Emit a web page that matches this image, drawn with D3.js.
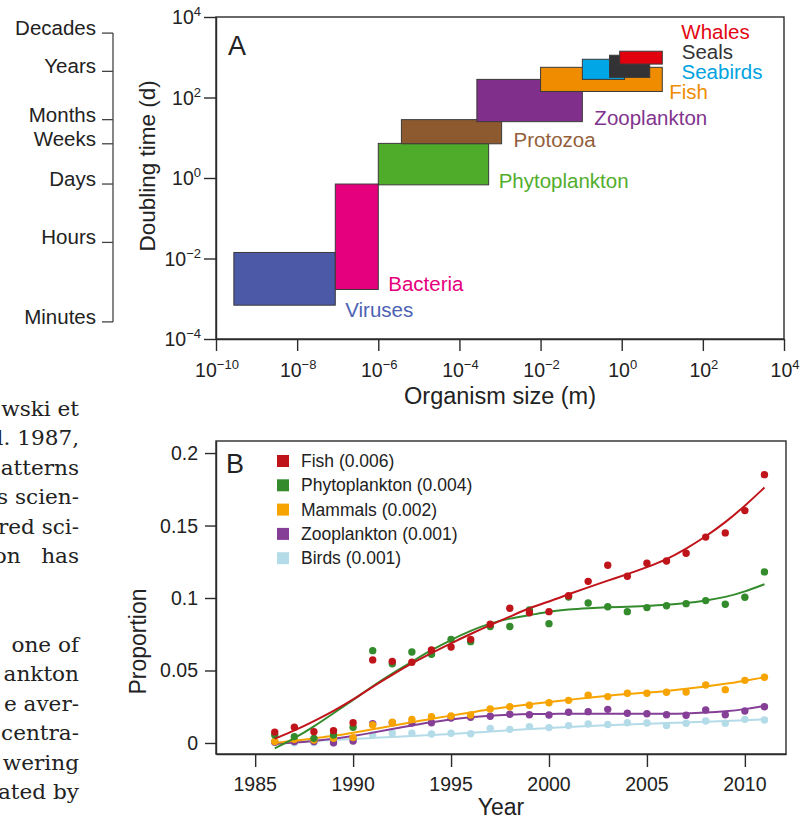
<!DOCTYPE html>
<html>
<head>
<meta charset="utf-8">
<script src="https://cdn.jsdelivr.net/npm/d3@7/dist/d3.min.js"></script>
<style>
  body { margin: 0; background: #fff; }
  svg { display: block; font-family: "Liberation Sans", Arial, sans-serif; }
</style>
</head>
<body>
<svg id="chart" width="807" height="820"></svg>
<script>
// ---- panel A data (log10 of size in m, log10 of doubling time in days)
var groups   = ['Viruses', 'Bacteria', 'Phytoplankton', 'Protozoa', 'Zooplankton', 'Fish', 'Seabirds', 'Seals', 'Whales'];
var sizeLo   = [-9.56, -7.06, -6.0, -5.43, -3.57, -2.0, -0.97, -0.3, -0.05];
var sizeHi   = [-7.06, -6.0, -3.28, -2.96, -0.97, 1.0, 0.07, 0.69, 1.0];
var timeLo   = [-3.16, -2.77, -0.17, 0.85, 1.4, 2.15, 2.45, 2.5, 2.83];
var timeHi   = [-1.85, -0.15, 0.86, 1.45, 2.45, 2.75, 2.95, 3.05, 3.15];
var yExp     = [-4, -2, 0, 2, 4];
var xExp     = [-10, -8, -6, -4, -2, 0, 2, 4];
var timeWords = ['Decades', 'Years', 'Months', 'Weeks', 'Days', 'Hours', 'Minutes'];
var timeWordPos = [3.6, 2.65, 1.45, 0.85, -0.15, -1.6, -3.575];

// ---- panel B data (proportion of studies per year)
var years = [1986, 1987, 1988, 1989, 1990, 1991, 1992, 1993, 1994, 1995, 1996, 1997, 1998,
             1999, 2000, 2001, 2002, 2003, 2004, 2005, 2006, 2007, 2008, 2009, 2010, 2011];
var fish    = [0.0075, 0.0108, 0.0078, 0.0085, 0.014, 0.0573, 0.0563, 0.0557, 0.0642, 0.0662, 0.0715, 0.0819, 0.0929,
               0.0898, 0.0906, 0.1016, 0.1115, 0.1226, 0.115, 0.124, 0.1255, 0.1309, 0.142, 0.1449, 0.1603, 0.1851];
var phyto   = [0.0055, 0.0044, 0.0032, 0.0055, 0.0108, 0.0637, 0.0547, 0.0628, 0.0612, 0.0715, 0.0699, 0.0803, 0.0803,
               0.0918, 0.0823, 0.1007, 0.0966, 0.094, 0.0906, 0.0934, 0.0947, 0.0961, 0.0982, 0.0957, 0.1005, 0.118];
var mammals = [0.001, 0.0025, 0.002, 0.0032, 0.0037, 0.0124, 0.0143, 0.0163, 0.0182, 0.0186, 0.0193, 0.0235, 0.025,
               0.026, 0.0278, 0.0294, 0.0329, 0.032, 0.0343, 0.0343, 0.035, 0.0352, 0.04, 0.0368, 0.0432, 0.0453];
var zoo     = [0.0005, 0.001, 0.001, 0.0002, 0.0014, 0.0133, 0.014, 0.0138, 0.014, 0.0172, 0.0177, 0.0184, 0.0198,
               0.0195, 0.0193, 0.0212, 0.0216, 0.0232, 0.0205, 0.0202, 0.0195, 0.0191, 0.0228, 0.0195, 0.0221, 0.025];
var birds   = [0.0008, 0.0002, 0.0003, 0.0002, 0.0016, 0.0055, 0.0067, 0.0067, 0.0062, 0.0067, 0.0064, 0.0101, 0.0094,
               0.0113, 0.0106, 0.012, 0.0131, 0.0127, 0.014, 0.0138, 0.012, 0.0136, 0.0152, 0.0136, 0.0163, 0.0159];
// smoothed trends
var fishFit    = [0.003, 0.0085, 0.015, 0.022, 0.0298, 0.0389, 0.047, 0.055, 0.062, 0.0688, 0.0752, 0.0814, 0.0871,
                  0.0932, 0.0975, 0.1026, 0.1074, 0.112, 0.1164, 0.1212, 0.1265, 0.1339, 0.1424, 0.152, 0.1635, 0.1762];
var phytoFit   = [-0.0037, 0.0032, 0.0113, 0.0205, 0.0297, 0.0393, 0.048, 0.056, 0.0642, 0.0711, 0.0775, 0.0826, 0.086,
                  0.0881, 0.0906, 0.0922, 0.093, 0.0936, 0.094, 0.0945, 0.0952, 0.0964, 0.0982, 0.1005, 0.1044, 0.1095];
var mammalsFit = [0, 0.0014, 0.0032, 0.0048, 0.0071, 0.0094, 0.012, 0.0143, 0.0166, 0.0189, 0.021, 0.0233, 0.025,
                  0.0267, 0.0283, 0.0297, 0.0313, 0.0327, 0.0338, 0.0347, 0.0359, 0.0373, 0.0389, 0.0407, 0.043, 0.0453];
var zooFit     = [-0.0007, 0.0002, 0.0014, 0.0028, 0.0048, 0.0071, 0.0097, 0.0122, 0.0143, 0.0163, 0.0179, 0.0189, 0.0195,
                  0.02, 0.02, 0.0202, 0.0202, 0.0202, 0.0202, 0.0202, 0.0202, 0.0203, 0.0209, 0.0218, 0.0232, 0.0255];
var birdsFit   = [0.0005, 0.001, 0.0015, 0.0021, 0.0028, 0.0035, 0.0042, 0.0048, 0.0055, 0.0062, 0.007, 0.0079, 0.0088,
                  0.0096, 0.0103, 0.011, 0.0117, 0.0123, 0.0128, 0.0133, 0.0137, 0.0142, 0.0146, 0.0151, 0.0157, 0.0162];
var seriesNames = ['Fish (0.006)', 'Phytoplankton (0.004)', 'Mammals (0.002)', 'Zooplankton (0.001)', 'Birds (0.001)'];
var yTicksB = [0, 0.05, 0.1, 0.15, 0.2];
var xTicksB = [1985, 1990, 1995, 2000, 2005, 2010];

// bits of the neighbouring text column that show at the left edge
var bodyLines = ['wski et', 'l. 1987,', 'atterns', 's scien-', 'red sci-', null, '', '', 'one of',
                 'ankton', 'e aver-', 'centra-', 'wering', 'ated by'];

var svg = d3.select('#chart');
var ink = '#2b2b2b';

// ---------- left text column (slightly widened serif, right-justified)
var body = svg.append('g')
  .attr('transform', 'translate(79,0) scale(1.08,1) translate(-79,0)')
  .attr('font-family', '"DejaVu Serif", "Liberation Serif", serif')
  .attr('font-size', '20px').attr('fill', '#222');
bodyLines.forEach(function(t, i) {
  var y = 416 + i * 29.5;
  if (t === null) {
    body.append('text').attr('x', 25).attr('y', y).attr('text-anchor', 'end').text('on');
    body.append('text').attr('x', 79).attr('y', y).attr('text-anchor', 'end').text('has');
  } else if (t) {
    body.append('text').attr('x', 79).attr('y', y).attr('text-anchor', 'end').text(t);
  }
});

// ---------- panel A
var xA = d3.scaleLinear().domain([-10, 4]).range([216, 784]);
var yA = d3.scaleLinear().domain([-4, 4]).range([339, 17]);
var colorsA = ['#4b59a6', '#e5007d', '#4fac2a', '#8d5a2f', '#80308b', '#f08c00', '#00a6e6', '#333336', '#e2000f'];
var textColA = ['#4d62b4', '#e5007d', '#52ad2b', '#93603a', '#82348e', '#f08c00', '#00a3e0', '#333336', '#e30613'];
var labelOff = [[10, 12], [10, 2], [10, 3], [12, 3], [12, 3], [7, 8], [57, 0], [32, -18], [19, -25]];

var gA = svg.append('g');
gA.selectAll('rect.box').data(groups).enter().append('rect')
  .attr('class', 'box')
  .attr('x', function(d, i) { return xA(sizeLo[i]); })
  .attr('y', function(d, i) { return yA(timeHi[i]); })
  .attr('width', function(d, i) { return xA(sizeHi[i]) - xA(sizeLo[i]); })
  .attr('height', function(d, i) { return yA(timeLo[i]) - yA(timeHi[i]); })
  .attr('fill', function(d, i) { return colorsA[i]; })
  .attr('stroke', '#3a3a3a').attr('stroke-width', 1);

gA.selectAll('text.grp').data(groups).enter().append('text')
  .attr('class', 'grp')
  .attr('x', function(d, i) { return xA(sizeHi[i]) + labelOff[i][0]; })
  .attr('y', function(d, i) { return yA(timeLo[i]) + labelOff[i][1]; })
  .attr('fill', function(d, i) { return textColA[i]; })
  .attr('font-size', '20.5px')
  .text(function(d) { return d; });

gA.append('rect').attr('x', 216).attr('y', 17).attr('width', 568).attr('height', 322)
  .attr('fill', 'none').attr('stroke', ink).attr('stroke-width', 1.4);

var axA = gA.append('g').attr('transform', 'translate(216,0)')
  .call(d3.axisLeft(yA).tickValues(yExp).tickSize(12).tickSizeOuter(0).tickFormat(''));
var axAx = gA.append('g').attr('transform', 'translate(0,339)')
  .call(d3.axisBottom(xA).tickValues(xExp).tickSize(12).tickSizeOuter(0).tickFormat(''));
[axA, axAx].forEach(function(a) {
  a.select('.domain').attr('stroke', ink).attr('stroke-width', 1.4);
  a.selectAll('.tick line').attr('stroke', ink).attr('stroke-width', 1.4);
});

function powLabel(sel, e) {
  sel.append('tspan').attr('font-size', '19.5px').text('10');
  sel.append('tspan').attr('font-size', '13px').attr('dy', -8).text(e < 0 ? '\u2212' + (-e) : e);
}
yExp.forEach(function(e) {
  var t = gA.append('text').attr('x', 201).attr('y', yA(e) + 7).attr('text-anchor', 'end').attr('fill', '#222');
  powLabel(t, e);
});
xExp.forEach(function(e) {
  var t = gA.append('text').attr('x', xA(e) + 1).attr('y', 377).attr('text-anchor', 'middle').attr('fill', '#222');
  powLabel(t, e);
});

gA.append('text').attr('x', 228).attr('y', 55).attr('font-size', '27px').attr('fill', '#222').text('A');
gA.append('text').attr('x', 500).attr('y', 404).attr('text-anchor', 'middle')
  .attr('font-size', '23.5px').attr('fill', '#222').text('Organism size (m)');
gA.append('text').attr('transform', 'translate(155,' + yA(0.3) + ') rotate(-90)').attr('text-anchor', 'middle')
  .attr('font-size', '22.5px').attr('fill', '#222').text('Doubling time (d)');

// time-word bracket
var tw = svg.append('g');
tw.append('line').attr('x1', 113).attr('x2', 113)
  .attr('y1', yA(d3.max(timeWordPos))).attr('y2', yA(d3.min(timeWordPos)))
  .attr('stroke', '#444').attr('stroke-width', 1.3);
timeWords.forEach(function(w, i) {
  var y = yA(timeWordPos[i]);
  tw.append('line').attr('x1', 102).attr('x2', 113).attr('y1', y).attr('y2', y)
    .attr('stroke', '#444').attr('stroke-width', 1.3);
  tw.append('text').attr('x', 96).attr('y', y + 2).attr('text-anchor', 'end')
    .attr('font-size', '20.5px').attr('fill', '#222').text(w);
});

// ---------- panel B
var xB = d3.scaleLinear().domain([1983, 2012.1]).range([216, 786]);
var yB = d3.scaleLinear().domain([-0.0076, 0.2083]).range([754, 441]);
var colorsB = ['#c0141b', '#338b2c', '#f7a400', '#853f97', '#b3dbe8'];
var seriesB = [fish, phyto, mammals, zoo, birds];
var fitsB = [fishFit, phytoFit, mammalsFit, zooFit, birdsFit];

var gB = svg.append('g');
var line = d3.line().curve(d3.curveBasis)
  .x(function(d, i) { return xB(years[i]); })
  .y(function(d) { return yB(d); });

// draw from the bottom series up so fish ends on top
[4, 3, 2, 1, 0].forEach(function(k) {
  gB.append('path').datum(fitsB[k]).attr('d', line)
    .attr('fill', 'none').attr('stroke', colorsB[k]).attr('stroke-width', 2);
  gB.selectAll('circle.s' + k).data(seriesB[k]).enter().append('circle')
    .attr('class', 's' + k)
    .attr('cx', function(d, i) { return xB(years[i]); })
    .attr('cy', function(d) { return yB(d); })
    .attr('r', 3.7)
    .attr('fill', colorsB[k]);
});

gB.append('rect').attr('x', 216).attr('y', 441).attr('width', 570).attr('height', 313)
  .attr('fill', 'none').attr('stroke', ink).attr('stroke-width', 1.4);

var axB = gB.append('g').attr('transform', 'translate(216,0)')
  .call(d3.axisLeft(yB).tickValues(yTicksB).tickSize(11).tickSizeOuter(0).tickFormat(''));
var axBx = gB.append('g').attr('transform', 'translate(0,754)')
  .call(d3.axisBottom(xB).tickValues(xTicksB).tickSize(13).tickSizeOuter(0).tickFormat(''));
[axB, axBx].forEach(function(a) {
  a.select('.domain').attr('stroke', ink).attr('stroke-width', 1.4);
  a.selectAll('.tick line').attr('stroke', ink).attr('stroke-width', 1.4);
});
yTicksB.forEach(function(v) {
  gB.append('text').attr('x', 198).attr('y', yB(v) + 7).attr('text-anchor', 'end')
    .attr('font-size', '19.5px').attr('fill', '#222').text(v === 0 ? '0' : String(v));
});
xTicksB.forEach(function(v) {
  gB.append('text').attr('x', xB(v)).attr('y', 791).attr('text-anchor', 'middle')
    .attr('font-size', '19.5px').attr('fill', '#222').text(v);
});

gB.append('text').attr('x', 226).attr('y', 473).attr('font-size', '27px').attr('fill', '#222').text('B');
gB.append('text').attr('x', 501).attr('y', 815).attr('text-anchor', 'middle')
  .attr('font-size', '23px').attr('fill', '#222').text('Year');
gB.append('text').attr('transform', 'translate(146,' + yB(0.07) + ') rotate(-90)').attr('text-anchor', 'middle')
  .attr('font-size', '23px').attr('fill', '#222').text('Proportion');

var leg = gB.append('g');
seriesNames.forEach(function(n, i) {
  var y = 461 + i * 24.3;
  leg.append('rect').attr('x', 277).attr('y', y - 6).attr('width', 12).attr('height', 12).attr('fill', colorsB[i]);
  leg.append('text').attr('x', 301).attr('y', y + 6).attr('font-size', '17.5px').attr('fill', '#222').text(n);
});
</script>
</body>
</html>
